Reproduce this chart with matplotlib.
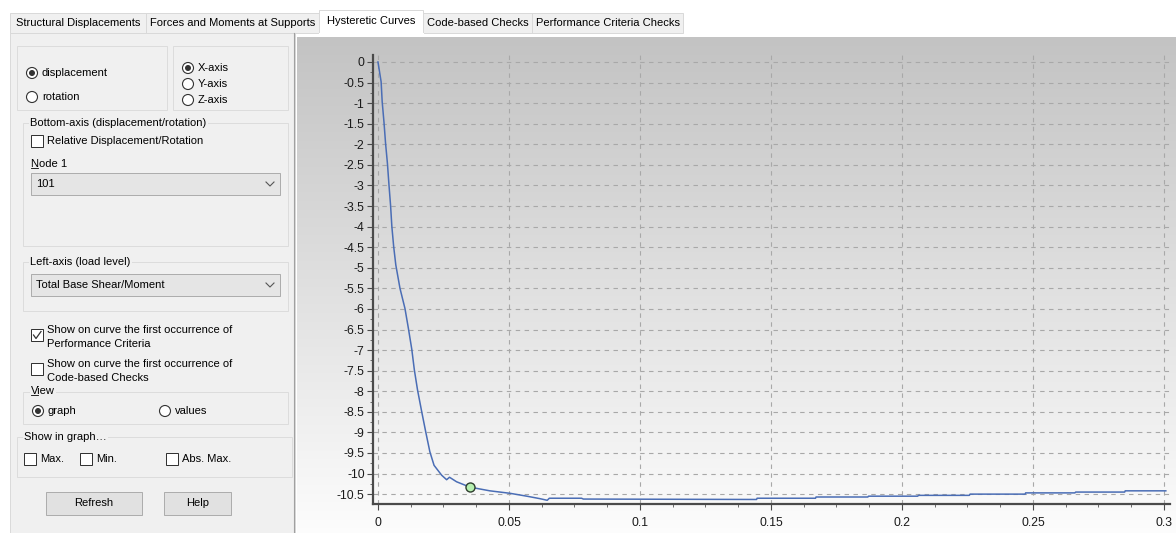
import numpy as np
import matplotlib.pyplot as plt
from matplotlib.patches import Rectangle, Circle
from matplotlib.ticker import MultipleLocator

plt.rcParams['font.family'] = ['Liberation Sans', 'DejaVu Sans']

# --- data ---
tab_names = ["Structural Displacements", "Forces and Moments at Supports",
             "Hysteretic Curves", "Code-based Checks", "Performance Criteria Checks"]
active_tab = "Hysteretic Curves"

disp = [0.0, 0.0012, 0.0016, 0.0023, 0.0029, 0.0036, 0.0042, 0.0048, 0.0053, 0.0060,
        0.0068, 0.0084, 0.0103, 0.0116, 0.0129, 0.0139, 0.0151, 0.0167, 0.0182, 0.0198,
        0.0214, 0.0243, 0.0262, 0.0273, 0.0300, 0.0351, 0.0427, 0.0504, 0.0568, 0.0618,
        0.0646, 0.0654, 0.0777, 0.0784, 0.1445, 0.1447, 0.1670, 0.1672, 0.1870, 0.1872,
        0.2060, 0.2063, 0.2257, 0.2260, 0.2470, 0.2472, 0.2660, 0.2663, 0.2850, 0.2852,
        0.3007]
load = [0.0, -0.48, -0.96, -1.47, -1.98, -2.46, -2.99, -3.48, -4.00, -4.49,
        -4.93, -5.50, -5.99, -6.47, -6.98, -7.49, -7.97, -8.50, -8.98, -9.47,
        -9.80, -10.04, -10.15, -10.09, -10.20, -10.33, -10.42, -10.48, -10.55, -10.61,
        -10.65, -10.60, -10.60, -10.62, -10.63, -10.60, -10.60, -10.57, -10.57, -10.55,
        -10.55, -10.53, -10.53, -10.50, -10.50, -10.47, -10.47, -10.45, -10.45, -10.42,
        -10.42]

# first occurrence of performance criteria
crit_disp = [0.0351]
crit_load = [-10.33]

x_ticks = [0, 0.05, 0.1, 0.15, 0.2, 0.25, 0.3]
x_tick_labels = ["0", "0.05", "0.1", "0.15", "0.2", "0.25", "0.3"]
y_ticks = [0, -0.5, -1, -1.5, -2, -2.5, -3, -3.5, -4, -4.5, -5, -5.5, -6, -6.5,
           -7, -7.5, -8, -8.5, -9, -9.5, -10, -10.5]
y_tick_labels = ["0", "-0.5", "-1", "-1.5", "-2", "-2.5", "-3", "-3.5", "-4", "-4.5",
                 "-5", "-5.5", "-6", "-6.5", "-7", "-7.5", "-8", "-8.5", "-9", "-9.5",
                 "-10", "-10.5"]

W, H = 1176, 533
fig = plt.figure(figsize=(W / 100, H / 100), dpi=100)
fig.patch.set_facecolor('white')

# full-figure axes in pixel units for the window chrome
ui = fig.add_axes([0, 0, 1, 1])
ui.axis('off')

PANEL = '#f0f0f0'


def box(x0, y0, x1, y1, fc, ec, lw=1.0, z=1):
    ui.add_patch(Rectangle((x0, y0), x1 - x0, y1 - y0, facecolor=fc,
                           edgecolor=ec, linewidth=lw * 0.72, zorder=z))


def label(x, y, s, ha='left', bg=None, z=3):
    kw = {}
    if bg:
        kw['bbox'] = dict(facecolor=bg, edgecolor='none', pad=1)
    ui.text(x, y, s, fontsize=8, ha=ha, va='center', color='#000000', zorder=z, **kw)


def radio(cx, cy, text, on=False):
    ui.add_patch(Circle((cx, cy), 5.5, facecolor='white', edgecolor='#333333',
                        linewidth=0.8, zorder=3))
    if on:
        ui.add_patch(Circle((cx, cy), 3.0, facecolor='#333333', edgecolor='none', zorder=4))
    label(cx + 10, cy, text)


def checkbox(x, y, text_lines, on=False):
    box(x, y, x + 12, y + 12, 'white', '#333333', z=3)
    if on:
        ui.plot([x + 2.5, x + 5, x + 10], [y + 6, y + 9.5, y + 2.5],
                color='#333333', lw=0.9, zorder=4)
    for i, t in enumerate(text_lines):
        label(x + 16, y + 1 + i * 14 if len(text_lines) > 1 else y + 6, t)


def group(x0, y0, x1, y1, title=None):
    box(x0, y0, x1, y1, 'none', '#dcdcdc', z=2)
    if title:
        label(x0 + 7, y0, title, bg=PANEL)


def combo(x0, y0, x1, y1, text):
    box(x0, y0, x1, y1, '#e5e5e5', '#adadad', z=2)
    label(x0 + 5, (y0 + y1) / 2, text)
    cx, cy = x1 - 10, (y0 + y1) / 2
    ui.plot([cx - 4, cx, cx + 4], [cy - 2, cy + 2, cy - 2], color='#555555', lw=0.8, zorder=3)


def button(x0, y0, x1, y1, text):
    box(x0, y0, x1, y1, '#e1e1e1', '#adadad', z=2)
    label((x0 + x1) / 2, (y0 + y1) / 2, text, ha='center')


# chart background gradient
g = np.linspace(0.765, 0.99, 256).reshape(-1, 1)
ui.imshow(np.dstack([g, g, g]), extent=[297, W, H, 37], aspect='auto', zorder=0)

# tabs
tab_edges = [10, 146, 319, 423, 532, 683]
box(10, 33, 295, H + 2, PANEL, '#dadada')
for i, name in enumerate(tab_names):
    x0, x1 = tab_edges[i], tab_edges[i + 1]
    if name == active_tab:
        box(x0, 10, x1, 34, 'white', '#d9d9d9', z=2)
        ui.plot([x0 + 0.5, x1 - 0.5], [34, 34], color='white', lw=1.5, zorder=2)
        label((x0 + x1) / 2, 21, name, ha='center')
    else:
        box(x0, 13, x1, 33, PANEL, '#d9d9d9', z=1)
        label((x0 + x1) / 2, 23, name, ha='center')
ui.plot([294, 294], [33, H], color='#a0a0a0', lw=0.8, zorder=2)

# left options panel
group(17, 46, 167, 110)
radio(32, 73, "displacement", on=True)
radio(32, 97, "rotation")
group(173, 46, 288, 110)
radio(188, 68, "X-axis", on=True)
radio(188, 84, "Y-axis")
radio(188, 100, "Z-axis")

group(23, 123, 288, 246, "Bottom-axis (displacement/rotation)")
checkbox(31, 135, ["Relative Displacement/Rotation"])
label(31, 164, "Node 1")
ui.plot([31, 38], [168.3, 168.3], color='#000000', lw=0.6, zorder=3)
combo(31, 173, 280, 195, "101")

group(23, 262, 288, 311, "Left-axis (load level)")
combo(31, 274, 280, 296, "Total Base Shear/Moment")

checkbox(31, 329, ["Show on curve the first occurrence of", "Performance Criteria"], on=True)
checkbox(31, 363, ["Show on curve the first occurrence of", "Code-based Checks"])

group(23, 392, 288, 424)
label(31, 391, "View", bg=PANEL)
ui.plot([31, 38], [395.3, 395.3], color='#000000', lw=0.6, zorder=4)
radio(38, 411, "graph", on=True)
radio(165, 411, "values")

group(17, 437, 292, 477)
label(24, 437, "Show in graph\u2026", bg=PANEL)
checkbox(24, 453, ["Max."])
checkbox(80, 453, ["Min."])
checkbox(166, 453, ["Abs. Max."])

button(46, 492, 142, 515, "Refresh")
button(164, 492, 231, 515, "Help")

ui.set_xlim(0, W)
ui.set_ylim(H, 0)

# --- the hysteretic curve ---
ax = fig.add_axes([373 / W, (H - 504) / H, (1170 - 373) / W, (504 - 55) / H])
ax.set_facecolor('none')
ax.plot(disp, load, color='#4a6db5', lw=1.1, zorder=3)
ax.plot(crit_disp, crit_load, 'o', ms=6.5, mfc='#b6f0b0', mec='#2d3d2d', mew=1.0, zorder=4)

ax.set_xlim(-0.0019, 0.3023)
ax.set_ylim(-10.74, 0.17)
ax.set_xticks(x_ticks, x_tick_labels)
ax.set_yticks(y_ticks, y_tick_labels)
ax.xaxis.set_minor_locator(MultipleLocator(0.0125))
ax.yaxis.set_minor_locator(MultipleLocator(0.25))
ax.grid(True, which='major', color='#a8a8a8', ls=(0, (4, 4)), lw=0.8)

for side in ['top', 'right']:
    ax.spines[side].set_visible(False)
for side in ['left', 'bottom']:
    ax.spines[side].set_color('#4a4a4a')
    ax.spines[side].set_linewidth(1.6)

ax.tick_params(which='major', direction='out', length=4, width=0.8, color='#4a4a4a',
               labelsize=8.8, labelcolor='#1a1a1a')
ax.tick_params(axis='x', which='major', pad=5)
ax.tick_params(axis='y', which='major', pad=2)
ax.tick_params(which='minor', direction='out', length=2.5, width=0.7, color='#6a6a6a')

fig.savefig('out.png', dpi=100)
